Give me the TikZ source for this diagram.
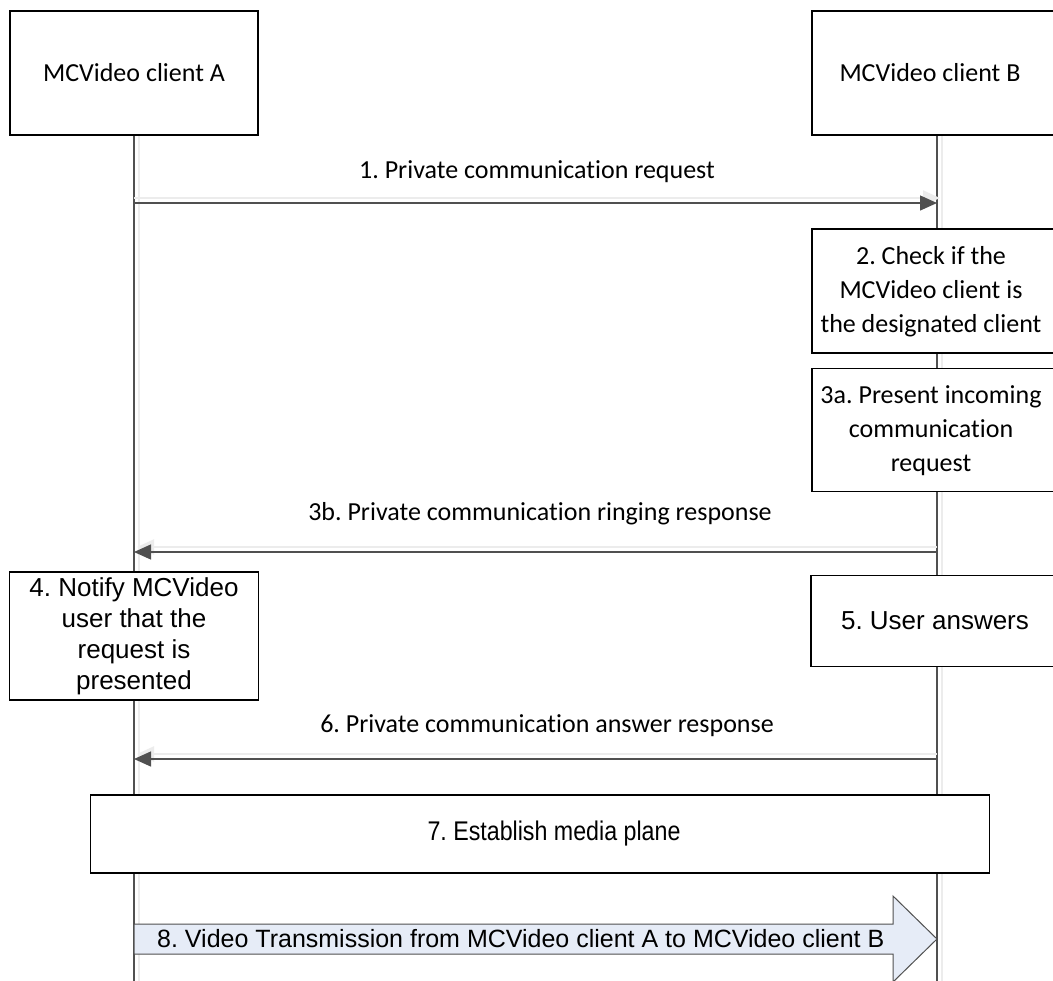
\documentclass[tikz,border=0pt]{standalone}
\usepackage{fontspec}
\setmainfont[Ligatures={NoCommon}]{Carlito}
\newfontfamily\arialf{Liberation Sans}
\newfontfamily\arialn[FakeStretch=0.86]{Liberation Sans}
\usetikzlibrary{arrows.meta}
\definecolor{linec}{HTML}{505050}
\definecolor{shad}{HTML}{ECECEC}
\definecolor{arrfill}{HTML}{E6ECF7}
\frenchspacing
\begin{document}
\begin{tikzpicture}[x=1bp,y=-1bp,
  box/.style={draw=black, line width=1.1bp, fill=white, inner sep=0pt, align=center},
  cal/.style={font=\frenchspacing\fontsize{26bp}{34bp}\selectfont},
  ari/.style={font=\frenchspacing\arialf\fontsize{26bp}{31bp}\selectfont},
  msg/.style={draw=linec, line width=1.3bp, -{Triangle[length=17bp,width=15bp]}},
  msgshadow/.style={draw=shad, line width=2bp, -{Triangle[length=17bp,width=15bp]}},
  life/.style={draw=linec, line width=1.3bp},
  lifeshadow/.style={draw=shad, line width=2.5bp}]
\useasboundingbox (0,0) rectangle (1053,981);
\fill[white] (0,0) rectangle (1053,981);

% lifeline coordinates
\coordinate (Atop) at (134,135);
\coordinate (Aend) at (134,981);
\coordinate (Btop) at (937,135);
\coordinate (Bend) at (937,981);

% lifelines with light shadow
\draw[lifeshadow] ([xshift=5bp]Atop) -- ([xshift=5bp]Aend);
\draw[lifeshadow] ([xshift=5bp]Btop) -- ([xshift=5bp]Bend);
\draw[life] (Atop) -- (Aend);
\draw[life] (Btop) -- (Bend);

% message end points
\coordinate (m1a) at (134,203);
\coordinate (m1b) at (937,203);
\coordinate (m3a) at (134,552);
\coordinate (m3b) at (937,552);
\coordinate (m6a) at (134,759);
\coordinate (m6b) at (937,759);

% messages
\draw[msgshadow] ([yshift=5bp]m1a) -- ([shift={(3bp,5bp)}]m1b);
\draw[msg] (m1a) -- (m1b);
\draw[msgshadow] ([yshift=5bp]m3b) -- ([shift={(3bp,5bp)}]m3a);
\draw[msg] (m3b) -- (m3a);
\draw[msgshadow] ([yshift=5bp]m6b) -- ([shift={(3bp,5bp)}]m6a);
\draw[msg] (m6b) -- (m6a);

\node[cal] (l1) at (537,172) {1. Private communication request};
\node[cal] (l3b) at (540,514) {3b. Private communication ringing response};
\node[cal] (l6) at (547,726) {6. Private communication answer response};

% header boxes
\node[box, cal, minimum width=248bp, minimum height=124bp] (A) at (134,73) {MCVideo client A};
\node[box, cal, minimum width=244bp, minimum height=124bp] (B) at (934,73) {};
\node[cal] (Bt) at (930,73) {MCVideo client B};

% step boxes on B side
\node[box, cal, minimum width=244bp, minimum height=124bp] (s2) at (934,291) {};
\node[cal, align=center] (s2t) at (931,292) {2. Check if the\\MCVideo client is\\the designated client};
\node[box, cal, minimum width=244bp, minimum height=123bp] (s3a) at (934,430) {};
\node[cal, align=center] (s3at) at (931,431) {3a. Present incoming\\communication\\request};
\node[box, ari, minimum width=246bp, minimum height=91bp] (s5) at (934,621) {};
\node[ari] (s5t) at (935,621) {5. User answers};

% step box on A side
\node[box, ari, minimum width=249bp, minimum height=128bp] (s4) at (134,636) {4. Notify MCVideo\\user that the\\request is\\presented};

% establish media plane
\node[box, minimum width=899bp, minimum height=78bp] (s7) at (540,834) {};
\node[font=\frenchspacing\arialn\fontsize{27bp}{30bp}\selectfont] (s7t) at (554,834) {7. Establish media plane};

% video transmission arrow
\coordinate (v8a) at (134,939);
\coordinate (v8b) at (937,939);
\draw[draw=linec, line width=1bp, fill=arrfill]
  ([yshift=-15bp]v8a) -- ([shift={(-44bp,-15bp)}]v8b) -- ([shift={(-44bp,-43bp)}]v8b)
  -- (v8b) -- ([shift={(-44bp,43bp)}]v8b) -- ([shift={(-44bp,15bp)}]v8b)
  -- ([yshift=15bp]v8a) -- cycle;
\node[anchor=west, inner sep=0pt, font=\frenchspacing\arialf\fontsize{25bp}{30bp}\selectfont] (l8) at (157,939) {8. Video Transmission from MCVideo client A to MCVideo client B};
\end{tikzpicture}
\end{document}
